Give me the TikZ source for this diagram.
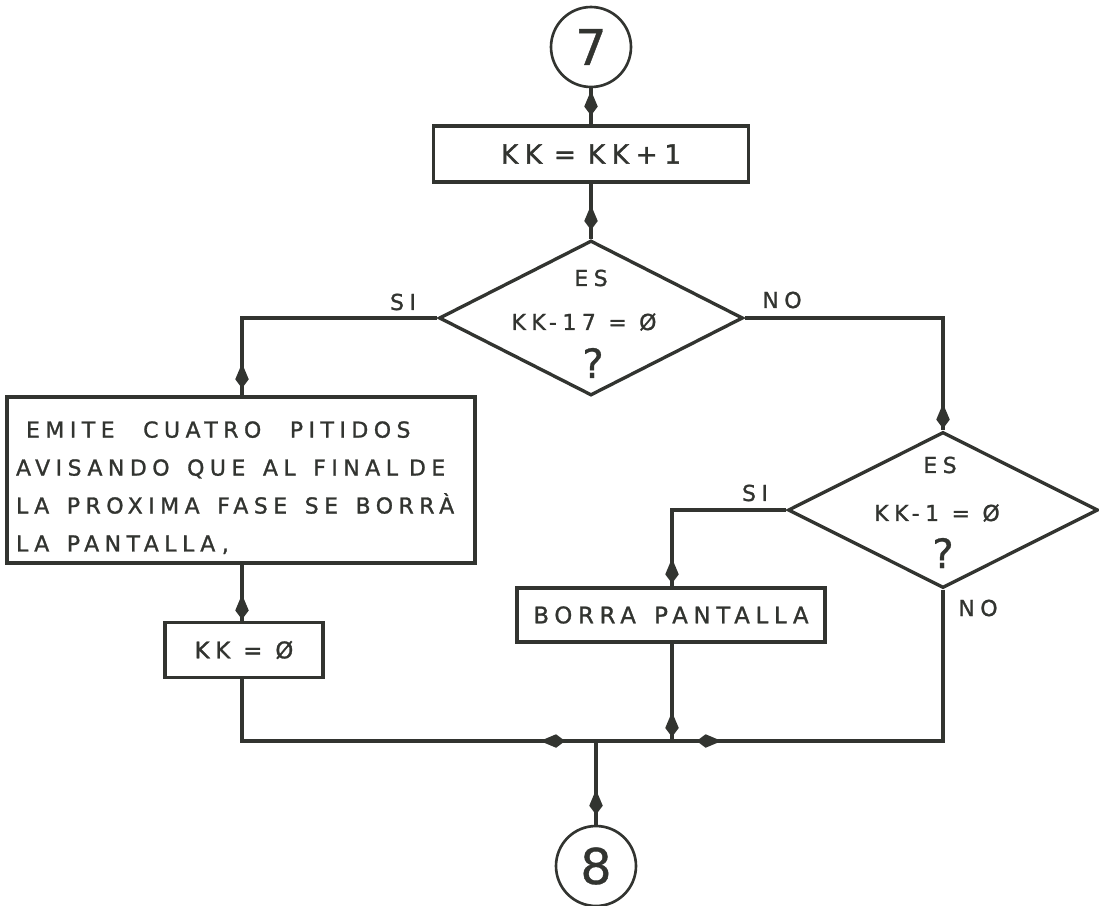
\documentclass[tikz,border=0pt]{standalone}
\usepackage{fontspec}
\setmainfont{DejaVu Sans}
\newfontfamily\hand[LetterSpace=25,FakeBold=1.2]{DejaVu Sans}
\newfontfamily\digits[FakeBold=0.8]{DejaVu Sans}
\usetikzlibrary{shapes.geometric,arrows.meta,decorations.markings}
\definecolor{ink}{RGB}{50,52,48}
\newcommand\wgap{\hspace{0.8em}}

\tikzset{
  flow/.style={draw=ink, line width=1.9pt},
  proc/.style={flow, rectangle, inner sep=0pt, text=ink,
    font=\hand\fontsize{13}{16}\selectfont},
  decide/.style={flow, diamond, inner sep=0pt},
  conn/.style={draw=ink, line width=1.5pt, circle, inner sep=0pt,
    minimum size=1.6cm, text=ink, font=\digits\fontsize{28}{30}\selectfont},
  lbl/.style={inner sep=0pt, text=ink, font=\hand\fontsize{12.5}{15}\selectfont},
  qmark/.style={inner sep=0pt, text=ink, font=\digits\fontsize{23}{25}\selectfont},
  link/.style={flow, postaction={decorate},
    decoration={markings, mark=at position #1 with
      {\arrow{Kite[length=0.5cm,width=0.27cm,inset=0.32cm]}}}},
}

\begin{document}
\begin{tikzpicture}[x=0.02cm, y=-0.02cm]
  \fill[white] (0,0) rectangle (1099,906);
  \useasboundingbox (0,0) rectangle (1099,906);

  % connectors and boxes
  \node[conn] (c7) at (591,47) {7};
  \node[proc, minimum width=6.3cm, minimum height=1.12cm,
        font=\hand\fontsize{15}{17}\selectfont] (kk1) at (591,154)
        {KK\hspace{0.45em}=\hspace{0.45em}KK+1};

  \node[decide, minimum width=6.08cm, minimum height=3.1cm] (d1) at (591,318) {};
  \node[lbl] (d1es) at (591,278) {ES};
  \node[lbl] (d1eq) at (584,322) {KK-17 = Ø};
  \node[qmark] (d1q) at (593,363) {?};
  \node[lbl] (si1) at (403,302) {SI};
  \node[lbl] (no1) at (782,300) {NO};

  \node[proc, minimum width=9.36cm, minimum height=3.32cm, inner xsep=0.18cm,
        text width=9cm, align=left, font=\hand\fontsize{12.5}{21.6}\selectfont]
        (emite) at (241,480)
        {\rule{0pt}{18pt}\hspace{0.2cm}EMITE\hspace{1.3em}CUATRO\hspace{1.3em}PITIDOS\\
         AVISANDO\wgap QUE\wgap AL\wgap FINAL\hspace{0.5em}DE\\
         LA\wgap PROXIMA\wgap FASE\wgap SE\wgap BORRÀ\\
         LA\wgap PANTALLA\hspace{0.3em},};
  \node[proc, minimum width=3.16cm, minimum height=1.1cm] (kk0) at (244,650) {KK = Ø};

  \node[decide, minimum width=6.2cm, minimum height=3.12cm] (d2) at (943,510) {};
  \node[lbl] (d2es) at (940,465) {ES};
  \node[lbl] (d2eq) at (937,513) {KK-1 = Ø};
  \node[qmark] (d2q) at (943,553) {?};
  \node[lbl] (si2) at (755,493) {SI};
  \node[lbl] (no2) at (978,608) {NO};

  \node[proc, minimum width=6.16cm, minimum height=1.08cm] (borra) at (671,615)
        {BORRA\wgap PANTALLA};
  \node[conn] (c8) at (596,866) {8};

  % columns and junctions
  \coordinate (colL) at (242,0);
  \coordinate (colB) at (672,0);
  \coordinate (mM) at (596,741);
  \coordinate (mB) at (672,741);

  % flow lines
  \path[link=-5pt] (c7.south) -- (kk1.north);
  \path[link=-5pt] (kk1.south) -- (d1.north);
  \path[link=-4pt] (d1.west) -| (emite.north -| colL);
  \path[link=-1pt] (d1.east) -| (d2.north);
  \path[link=-0.8pt] (emite.south -| colL) -- (kk0.north -| colL);
  \path[link=-1.7pt] (d2.west) -| (borra.north -| colB);
  \path[link=-17.6pt] (kk0.south -| colL) |- (mM);
  \path[link=-2.3pt] (borra.south -| colB) -- (mB);
  \path[link=-14pt] (d2.south) |- (mB);
  \path[flow] (mB) -- (mM);
  \path[link=-5.7pt] (mM) -- (c8.north);
\end{tikzpicture}
\end{document}
